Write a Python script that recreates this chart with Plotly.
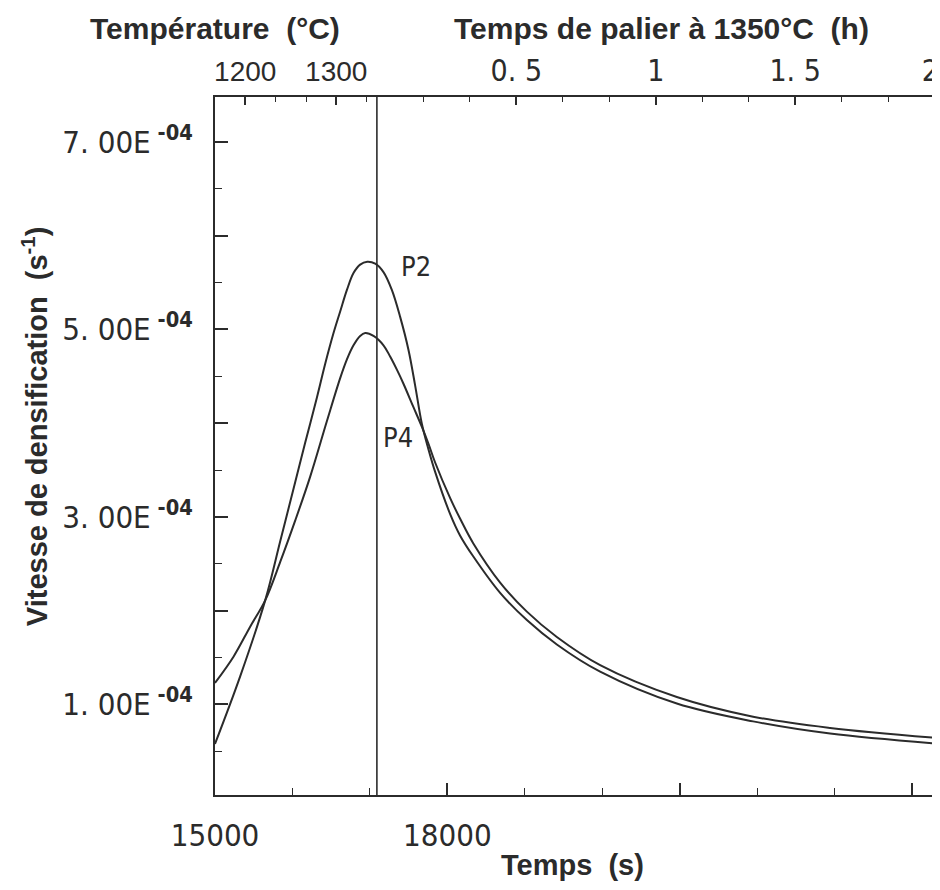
import numpy as np
import plotly.graph_objects as go

# ---------------- data (rates in units of 1e-4 s^-1, time in s) ----------------
time_p2 = [15000, 15325, 15648, 15842, 16035, 16164, 16315, 16422, 16530, 16616,
           16703, 16788, 16874, 16965, 17068, 17175, 17283, 17391, 17498, 17584,
           17671, 17756, 17842, 18036, 18165, 18333, 18681, 19026, 19413, 19972,
           20962, 21947, 22941, 24296]
rate_p2 = [0.58, 1.30, 2.11, 2.74, 3.37, 3.79, 4.27, 4.63, 4.96, 5.19,
           5.42, 5.60, 5.69, 5.72, 5.70, 5.61, 5.42, 5.13, 4.78, 4.40,
           3.99, 3.72, 3.48, 3.03, 2.80, 2.58, 2.19, 1.90, 1.64, 1.35,
           1.01, 0.82, 0.69, 0.585]

time_p4 = [15000, 15239, 15454, 15648, 15842, 16035, 16229, 16444, 16616, 16703,
           16788, 16874, 16939, 17046, 17175, 17261, 17348, 17433, 17562, 17671,
           17756, 17842, 18036, 18165, 18333, 18681, 19026, 19413, 19972, 20962,
           21947, 22941, 24296]
rate_p4 = [1.23, 1.51, 1.83, 2.11, 2.52, 2.96, 3.43, 4.02, 4.48, 4.68,
           4.83, 4.93, 4.96, 4.93, 4.83, 4.71, 4.57, 4.42, 4.17, 3.96,
           3.78, 3.58, 3.20, 2.98, 2.72, 2.30, 1.99, 1.72, 1.42, 1.08,
           0.87, 0.75, 0.645]

plateau_start = 17090          # s, start of the 1350 °C dwell
x_range = [15000, 24295]
y_range = [0.035, 7.477]       # 1e-4 s^-1

bottom_ticks = [15000, 18000, 21000, 24000]
bottom_labels = ["15000", "18000", "", ""]
bottom_minor = [16000, 17000, 19000, 20000, 22000, 23000]

temp_labels = ["1200", "1300"]
temp_tick_times = [15390, 16565]
temp_minor_times = [15780, 16175, 16960]

hour_ticks = [0.5, 1, 1.5, 2]
hour_labels = ["0. 5", "1", "1. 5", "2\u00a0"]
hour_minor_step = 600          # s

y_major = [1, 2, 3, 4, 5, 6, 7]
y_label_text = ["1. 00E", "", "3. 00E", "", "5. 00E", "", "7. 00E"]
y_label_exp = "-04"

SCALE = 1e-4
INK = "#2b2b2b"
PLOT_FONT = "Liberation Sans Narrow, DejaVu Sans Condensed, Arial Narrow, sans-serif"
TITLE_FONT = "Liberation Sans, Arial, Helvetica, sans-serif"

fig = go.Figure()
fig.add_trace(go.Scatter(x=time_p2, y=np.array(rate_p2) * SCALE, mode="lines",
                         line=dict(color=INK, width=2, shape="spline", smoothing=1.0),
                         name="P2", showlegend=False))
fig.add_trace(go.Scatter(x=time_p4, y=np.array(rate_p4) * SCALE, mode="lines",
                         line=dict(color=INK, width=2, shape="spline", smoothing=1.0),
                         name="P4", showlegend=False))
# invisible trace to activate the top axis
fig.add_trace(go.Scatter(x=x_range, y=[None, None], xaxis="x2", mode="lines",
                         showlegend=False, hoverinfo="skip"))

fig.add_shape(type="line", x0=plateau_start, x1=plateau_start, y0=0, y1=1,
              xref="x", yref="paper", line=dict(color=INK, width=1.6))

top_tickvals = temp_tick_times + [plateau_start + h * 3600 for h in hour_ticks]
top_ticktext = ([f"<span style='font-family:Liberation Sans, Arial, sans-serif;"
                 f"font-size:28px'>{t}</span>" for t in temp_labels] + hour_labels)
top_minor = temp_minor_times + [plateau_start + k * hour_minor_step
                                for k in range(1, 12) if k % 3 != 0]

y_ticktext = [f"{t}<sup><b> {y_label_exp}</b></sup>" if t else "" for t in y_label_text]

# the page body adds an 8 px offset, so the figure is sized to fit the window
fig.update_layout(
    width=932, height=882,
    margin=dict(l=207, r=5, t=89, b=95),
    paper_bgcolor="white", plot_bgcolor="white",
    xaxis=dict(range=x_range, tickmode="array", tickvals=bottom_ticks,
               ticktext=bottom_labels, ticks="inside", ticklen=12, tickwidth=1.5,
               tickcolor=INK, showline=True, linecolor=INK, linewidth=2,
               showgrid=False, zeroline=False, automargin=False,
               ticklabelstandoff=12,
               tickfont=dict(family=PLOT_FONT, size=31, color=INK),
               minor=dict(tickmode="array", tickvals=bottom_minor, ticks="inside",
                          ticklen=7, tickwidth=1.3, tickcolor=INK, showgrid=False)),
    xaxis2=dict(range=x_range, overlaying="x", side="top", tickmode="array",
                tickvals=top_tickvals, ticktext=top_ticktext, ticks="inside",
                ticklen=8, tickwidth=1.5, tickcolor=INK, showline=True,
                linecolor=INK, linewidth=2, showgrid=False, zeroline=False,
                automargin=False, ticklabeloverflow="allow", ticklabelstandoff=2,
                tickfont=dict(family=PLOT_FONT, size=30, color=INK),
                minor=dict(tickmode="array", tickvals=top_minor, ticks="inside",
                           ticklen=5, tickwidth=1.3, tickcolor=INK, showgrid=False)),
    yaxis=dict(range=[y_range[0] * SCALE, y_range[1] * SCALE], tickmode="array",
               tickvals=[v * SCALE for v in y_major], ticktext=y_ticktext,
               ticks="inside", ticklen=13, tickwidth=1.5, tickcolor=INK,
               showline=True, mirror=True, linecolor=INK, linewidth=2,
               showgrid=False, zeroline=False, automargin=False,
               ticklabelstandoff=14,
               tickfont=dict(family=PLOT_FONT, size=31, color=INK),
               minor=dict(dtick=0.5 * SCALE, tick0=0, ticks="inside", ticklen=7,
                          tickwidth=1.3, tickcolor=INK, showgrid=False)),
)

annots = [
    dict(text="P2", x=17597, y=5.67 * SCALE, xref="x", yref="y",
         font=dict(family=PLOT_FONT, size=27, color=INK)),
    dict(text="P4", x=17365, y=3.85 * SCALE, xref="x", yref="y",
         font=dict(family=PLOT_FONT, size=27, color=INK)),
    dict(text="Température  (°C)", x=0, y=1, xref="paper", yref="paper",
         yshift=69, xanchor="center", yanchor="middle",
         font=dict(family=TITLE_FONT, size=30, color=INK, weight="bold")),
    dict(text="Temps de palier à 1350°C  (h)", x=0.62, y=1, xref="paper",
         yref="paper", yshift=69, xanchor="center", yanchor="middle",
         font=dict(family=TITLE_FONT, size=30, color=INK, weight="bold")),
    dict(text="Temps  (s)", x=0.497, y=0, xref="paper", yref="paper",
         yshift=-70, xanchor="center", yanchor="middle",
         font=dict(family=TITLE_FONT, size=29, color=INK, weight="bold")),
    dict(text="Vitesse de densification  (s<sup>-1</sup>)", x=0, y=0.527,
         xref="paper", yref="paper", xshift=-180, textangle=-90,
         xanchor="center", yanchor="middle",
         font=dict(family=TITLE_FONT, size=29, color=INK, weight="bold")),
]
for a in annots:
    a.setdefault("showarrow", False)
    fig.add_annotation(**a)

fig.write_html("out.html")
